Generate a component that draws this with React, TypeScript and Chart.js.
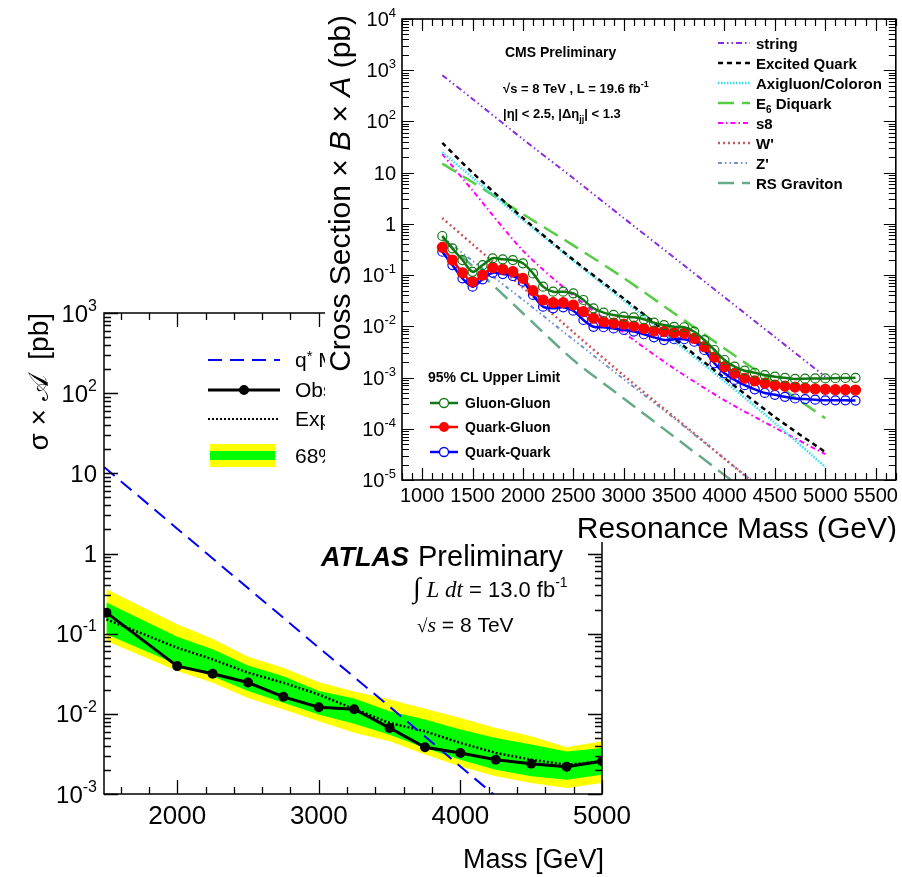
import React, { useEffect, useRef } from 'react';
import { Chart, registerables } from 'chart.js';
Chart.register(...registerables);

const SANS = "'Liberation Sans', Arial, Helvetica, sans-serif";
const SERIF = "'Liberation Serif', 'Times New Roman', serif";

// ================= ATLAS (bottom-left) data =================
const atlasMass = [1500, 2000, 2250, 2500, 2750, 3000, 3250, 3500, 3750, 4000, 4250, 4500, 4750, 5000];
const atlasObserved = [0.183, 0.0394, 0.0316, 0.0246, 0.0163, 0.0121, 0.0114, 0.00668, 0.00382, 0.00325, 0.00268, 0.00239, 0.00219, 0.00256];
const atlasExpected = [0.151, 0.0668, 0.0477, 0.0326, 0.0244, 0.0174, 0.0115, 0.0077, 0.00606, 0.00434, 0.00325, 0.00268, 0.00232, 0.00256];
const atlasGreenUp = [0.244, 0.0917, 0.0637, 0.0402, 0.0295, 0.0192, 0.0155, 0.0108, 0.0085, 0.00637, 0.005, 0.00413, 0.0034, 0.00376];
const atlasGreenDown = [0.098, 0.0413, 0.0295, 0.0192, 0.0137, 0.0098, 0.0075, 0.0055, 0.00376, 0.00268, 0.00201, 0.00166, 0.00151, 0.00174];
const atlasYellowUp = [0.358, 0.131, 0.0866, 0.0516, 0.0376, 0.0248, 0.019, 0.0151, 0.01155, 0.0089, 0.00668, 0.00525, 0.00382, 0.00454];
const atlasYellowDown = [0.081, 0.0341, 0.0244, 0.0158, 0.0113, 0.0081, 0.0058, 0.00454, 0.0031, 0.00221, 0.00166, 0.00137, 0.00119, 0.00137];
const qStarMass = [1483, 2000, 2500, 3000, 3500, 4000, 4500];
const qStarXsec = [12, 2.04, 0.37, 0.067, 0.0123, 0.0022, 0.0004];
const atlasXTicks = [2000, 3000, 4000, 5000];
const atlasYExps = [3, 2, 1, 0, -1, -2, -3];

// ================= CMS (top-right) data =================
const cmsMass = [1200, 1300, 1400, 1500, 1600, 1700, 1800, 1900, 2000, 2100, 2200, 2300, 2400, 2500, 2600, 2700, 2800, 2900, 3000, 3100, 3200, 3300, 3400, 3500, 3600, 3700, 3800, 3900, 4000, 4100, 4200, 4300, 4400, 4500, 4600, 4700, 4800, 4900, 5000, 5100, 5200, 5300];
const gluonGluon = [0.58, 0.333, 0.197, 0.116, 0.157, 0.213, 0.203, 0.197, 0.17, 0.108, 0.0594, 0.0475, 0.0475, 0.044, 0.0327, 0.0225, 0.0185, 0.0167, 0.0155, 0.015, 0.0137, 0.0118, 0.0106, 0.0098, 0.0096, 0.00785, 0.0054, 0.00345, 0.0022, 0.00163, 0.00136, 0.00124, 0.00112, 0.00104, 0.00099, 0.00094, 0.00095, 0.00096, 0.00096, 0.00097, 0.00098, 0.00099];
const quarkGluon = [0.348, 0.197, 0.111, 0.0745, 0.1, 0.14, 0.13, 0.117, 0.0865, 0.0497, 0.0327, 0.029, 0.029, 0.0261, 0.0194, 0.0144, 0.0123, 0.0115, 0.011, 0.0101, 0.0091, 0.0081, 0.0079, 0.0075, 0.0073, 0.0058, 0.004, 0.0025, 0.00163, 0.00121, 0.00097, 0.00086, 0.00077, 0.00071, 0.00068, 0.00065, 0.00062, 0.0006, 0.00059, 0.00058, 0.00058, 0.00057];
const quarkQuark = [0.286, 0.157, 0.0865, 0.0594, 0.0828, 0.111, 0.105, 0.096, 0.0745, 0.041, 0.0242, 0.0225, 0.0235, 0.0202, 0.0133, 0.0098, 0.0096, 0.0091, 0.0085, 0.0079, 0.007, 0.0061, 0.0054, 0.0056, 0.0056, 0.005, 0.00345, 0.0019, 0.00121, 0.0009, 0.00071, 0.00059, 0.0005, 0.00046, 0.00042, 0.00039, 0.00038, 0.00037, 0.00036, 0.00036, 0.00036, 0.000355];
const theoryMass = [1200, 1500, 2000, 2500, 3000, 3500, 4000, 4500, 5000];
const stringXsec = [800, 275, 45, 7.8, 1.3, 0.22, 0.037, 0.0062, 0.00104];
const excitedQuarkXsec = [38, 10, 1.3, 0.2, 0.035, 0.0058, 0.00098, 0.00017, 0.000035];
const axigluonXsec = [25, 8, 1.2, 0.19, 0.032, 0.0052, 0.00085, 0.00013, 0.000018];
const e6DiquarkXsec = [15, 6.5, 1.55, 0.38, 0.088, 0.018, 0.0037, 0.00077, 0.00016];
const s8Xsec = [23, 4.5, 0.3, 0.04, 0.0075, 0.0015, 0.00036, 0.000105, 0.000032];
const wPrimeXsec = [1.3, 0.4, 0.057, 0.0077, 0.0011, 0.00017, 0.000026, 0.000004];
const zPrimeXsec = [0.55, 0.19, 0.033, 0.0055, 0.00093, 0.00016, 0.000026, 0.0000043];
const rsGravitonXsec = [0.5, 0.15, 0.018, 0.0022, 0.00039, 0.00007, 0.0000125, 0.0000022];
const cmsXTicks = [1000, 1500, 2000, 2500, 3000, 3500, 4000, 4500, 5000, 5500];
const cmsYExps = [4, 3, 2, 1, 0, -1, -2, -3, -4, -5];

type Part = { t: string; font: string; dy?: number };

function partsWidth(ctx: CanvasRenderingContext2D, parts: Part[]) {
  let w = 0;
  for (const p of parts) { ctx.font = p.font; w += ctx.measureText(p.t).width; }
  return w;
}
function drawParts(ctx: CanvasRenderingContext2D, x: number, y: number, parts: Part[], align: 'left' | 'right' | 'center' = 'left') {
  const w = partsWidth(ctx, parts);
  let cx = align === 'right' ? x - w : align === 'center' ? x - w / 2 : x;
  ctx.textAlign = 'left';
  ctx.textBaseline = 'alphabetic';
  for (const p of parts) {
    ctx.font = p.font;
    ctx.fillText(p.t, cx, y + (p.dy || 0));
    cx += ctx.measureText(p.t).width;
  }
}
function powParts(exp: number, size: number, supSize: number): Part[] {
  const f = `${size}px ${SANS}`;
  const fs = `${supSize}px ${SANS}`;
  if (exp === 0) return [{ t: '1', font: f }];
  if (exp === 1) return [{ t: '10', font: f }];
  return [{ t: '10', font: f }, { t: String(exp), font: fs, dy: -size * 0.45 }];
}

type FrameOpts = {
  xTickStart: number; xTickStep: number; xMajorStep: number;
  majorLen: number; minorLen: number; frameWidth: number; tickWidth: number;
};
function drawFrameTicks(chart: any, o: FrameOpts) {
  const { ctx, chartArea: a, scales } = chart;
  const xs = scales.x, ys = scales.y;
  ctx.save();
  ctx.strokeStyle = '#000';
  ctx.setLineDash([]);
  ctx.beginPath();
  for (let v = o.xTickStart; v <= xs.max + 1e-6; v += o.xTickStep) {
    const px = Math.round(xs.getPixelForValue(v)) + 0.5;
    const major = Math.abs(v % o.xMajorStep) < 1e-6;
    const len = major ? o.majorLen : o.minorLen;
    ctx.moveTo(px, a.bottom); ctx.lineTo(px, a.bottom - len);
    ctx.moveTo(px, a.top); ctx.lineTo(px, a.top + len);
  }
  const e0 = Math.floor(Math.log10(ys.min)), e1 = Math.ceil(Math.log10(ys.max));
  for (let e = e0; e <= e1; e++) {
    for (let m = 1; m <= 9; m++) {
      const v = m * Math.pow(10, e);
      if (v < ys.min * 0.999 || v > ys.max * 1.001) continue;
      const py = Math.round(ys.getPixelForValue(v)) + 0.5;
      const len = m === 1 ? o.majorLen : o.minorLen;
      ctx.moveTo(a.left, py); ctx.lineTo(a.left + len, py);
      ctx.moveTo(a.right, py); ctx.lineTo(a.right - len, py);
    }
  }
  ctx.lineWidth = o.tickWidth;
  ctx.stroke();
  ctx.lineWidth = o.frameWidth;
  ctx.strokeRect(a.left, a.top, a.right - a.left, a.bottom - a.top);
  ctx.restore();
}

function pts(xs: number[], ys: number[]) {
  return ys.map((v, i) => ({ x: xs[i], y: v }));
}

// ================= ATLAS chart =================
const atlasDecor = {
  id: 'atlasDecor',
  beforeDraw(chart: any) {
    const ctx = chart.ctx;
    ctx.save();
    ctx.fillStyle = '#fff';
    ctx.fillRect(0, 0, chart.width, chart.height);
    ctx.restore();
  },
  afterDatasetsDraw(chart: any) {
    const ctx: CanvasRenderingContext2D = chart.ctx;
    const xs = chart.scales.x, ys = chart.scales.y;
    drawFrameTicks(chart, { xTickStart: 1600, xTickStep: 200, xMajorStep: 1000, majorLen: 14, minorLen: 7, frameWidth: 1.5, tickWidth: 1.3 });
    ctx.save();
    ctx.fillStyle = '#000';
    for (const v of atlasXTicks) {
      drawParts(ctx, xs.getPixelForValue(v), 824, [{ t: String(v), font: `26px ${SANS}` }], 'center');
    }
    for (const e of atlasYExps) {
      const py = ys.getPixelForValue(Math.pow(10, e));
      drawParts(ctx, 97, py + 8.5, powParts(e, 24, 16), 'right');
    }
    // axis titles
    drawParts(ctx, 604, 868, [{ t: 'Mass [GeV]', font: `27px ${SANS}` }], 'right');
    ctx.save();
    ctx.translate(48, 313);
    ctx.rotate(-Math.PI / 2);
    drawParts(ctx, 0, 0, [
      { t: 'σ × ', font: `28px ${SANS}` },
      { t: '𝒜', font: `28px ${SERIF}` },
      { t: '  [pb]', font: `28px ${SANS}` },
    ], 'right');
    ctx.restore();

    // legend
    ctx.lineCap = 'butt';
    ctx.strokeStyle = '#0000ff'; ctx.lineWidth = 2; ctx.setLineDash([14, 8]);
    ctx.beginPath(); ctx.moveTo(208, 360); ctx.lineTo(280, 360); ctx.stroke();
    ctx.setLineDash([]);
    ctx.strokeStyle = '#000'; ctx.lineWidth = 3;
    ctx.beginPath(); ctx.moveTo(208, 390); ctx.lineTo(280, 390); ctx.stroke();
    ctx.beginPath(); ctx.arc(244, 390, 5, 0, Math.PI * 2); ctx.fill();
    ctx.lineWidth = 2; ctx.setLineDash([2, 2]);
    ctx.beginPath(); ctx.moveTo(208, 419); ctx.lineTo(280, 419); ctx.stroke();
    ctx.setLineDash([]);
    ctx.fillStyle = '#ffff00'; ctx.fillRect(210, 444, 65, 23);
    ctx.fillStyle = '#00ff00'; ctx.fillRect(210, 451, 65, 9);
    ctx.fillStyle = '#000';
    const lf = `21px ${SANS}`;
    drawParts(ctx, 295, 367, [{ t: 'q', font: lf }, { t: '*', font: `15px ${SANS}`, dy: -6 }, { t: ' MC', font: lf }]);
    drawParts(ctx, 295, 397, [{ t: 'Observed 95% CL upper limit', font: lf }]);
    drawParts(ctx, 295, 426, [{ t: 'Expected 95% CL upper limit', font: lf }]);
    drawParts(ctx, 295, 463, [{ t: '68% and 95% bands', font: lf }]);

    // labels
    drawParts(ctx, 321, 566, [{ t: 'ATLAS', font: `italic bold 27px ${SANS}` }]);
    drawParts(ctx, 418, 566, [{ t: 'Preliminary', font: `29px ${SANS}` }]);
    drawParts(ctx, 413, 597, [
      { t: '∫', font: `28px ${SERIF}` },
      { t: ' L', font: `italic 23px ${SERIF}` },
      { t: ' dt', font: `italic 23px ${SERIF}` },
      { t: ' = 13.0 fb', font: `22px ${SANS}` },
      { t: '-1', font: `14px ${SANS}`, dy: -10 },
    ]);
    drawParts(ctx, 417, 632, [
      { t: '√', font: `19px ${SERIF}` },
      { t: 's', font: `italic 22px ${SERIF}` },
      { t: ' = 8 TeV', font: `21px ${SANS}` },
    ]);
    ctx.restore();
  },
};

function AtlasChart() {
  const ref = useRef<HTMLCanvasElement>(null);
  useEffect(() => {
    const chart = new Chart(ref.current as HTMLCanvasElement, {
      type: 'line',
      data: {
        datasets: [
          { data: pts(atlasMass, atlasYellowUp), borderWidth: 0, pointRadius: 0, backgroundColor: '#ffff00', fill: 1, order: 10, tension: 0 } as any,
          { data: pts(atlasMass, atlasYellowDown), borderWidth: 0, pointRadius: 0, fill: false, order: 9, tension: 0 },
          { data: pts(atlasMass, atlasGreenUp), borderWidth: 0, pointRadius: 0, backgroundColor: '#00ff00', fill: 3, order: 8, tension: 0 } as any,
          { data: pts(atlasMass, atlasGreenDown), borderWidth: 0, pointRadius: 0, fill: false, order: 7, tension: 0 },
          { data: pts(atlasMass, atlasExpected), borderColor: '#000', borderWidth: 2.5, borderDash: [2, 2], pointRadius: 0, fill: false, order: 4, tension: 0 },
          { data: pts(qStarMass, qStarXsec), borderColor: '#0000ff', borderWidth: 2, borderDash: [14, 8], pointRadius: 0, fill: false, order: 2, tension: 0 },
          { data: pts(atlasMass, atlasObserved), borderColor: '#000', borderWidth: 3, pointRadius: 5, pointBackgroundColor: '#000', pointBorderColor: '#000', pointBorderWidth: 0, fill: false, order: 1, tension: 0 },
        ],
      },
      options: {
        responsive: false,
        animation: false,
        devicePixelRatio: 1,
        events: [],
        layout: { padding: { left: 104, top: 313, right: 300, bottom: 83 } },
        plugins: { legend: { display: false }, tooltip: { enabled: false } },
        scales: {
          x: { type: 'linear', min: 1483, max: 5000, display: false },
          y: { type: 'logarithmic', min: 1e-3, max: 1e3, display: false },
        },
      },
      plugins: [atlasDecor],
    } as any);
    return () => chart.destroy();
  }, []);
  return <canvas ref={ref} width={902} height={877} style={{ position: 'absolute', left: 0, top: 0, width: 902, height: 877 }} />;
}

// ================= CMS chart =================
const theoryStyles = [
  { key: 'string', data: stringXsec, color: '#8a2be2', dash: [6, 3, 1.5, 3, 1.5, 3], width: 2 },
  { key: 'Excited Quark', data: excitedQuarkXsec, color: '#000000', dash: [5, 4], width: 2.5 },
  { key: 'Axigluon/Coloron', data: axigluonXsec, color: '#33e0f0', dash: [1.5, 1.5], width: 2.5 },
  { key: 'E6 Diquark', data: e6DiquarkXsec, color: '#55cc44', dash: [16, 8], width: 2.5 },
  { key: 's8', data: s8Xsec, color: '#ff00ff', dash: [5, 3, 1.5, 3], width: 2 },
  { key: "W'", data: wPrimeXsec, color: '#c85a5a', dash: [2, 3], width: 2.5 },
  { key: "Z'", data: zPrimeXsec, color: '#7090d0', dash: [4, 3, 1.5, 3, 1.5, 3], width: 2 },
  { key: 'RS Graviton', data: rsGravitonXsec, color: '#66aa88', dash: [16, 8], width: 2.5 },
];
const observedStyles = [
  { key: 'Gluon-Gluon', data: gluonGluon, color: '#117711', filled: false },
  { key: 'Quark-Gluon', data: quarkGluon, color: '#ff0000', filled: true },
  { key: 'Quark-Quark', data: quarkQuark, color: '#0000ff', filled: false },
];

const cmsDecor = {
  id: 'cmsDecor',
  beforeDraw(chart: any) {
    const ctx = chart.ctx;
    ctx.save();
    ctx.fillStyle = '#fff';
    ctx.fillRect(0, 0, chart.width, chart.height);
    ctx.restore();
  },
  afterDatasetsDraw(chart: any) {
    const ctx: CanvasRenderingContext2D = chart.ctx;
    const xs = chart.scales.x, ys = chart.scales.y;
    drawFrameTicks(chart, { xTickStart: 800, xTickStep: 100, xMajorStep: 500, majorLen: 12, minorLen: 7, frameWidth: 1.6, tickWidth: 1.2 });
    ctx.save();
    ctx.fillStyle = '#000';
    for (const v of cmsXTicks) {
      drawParts(ctx, xs.getPixelForValue(v), 502, [{ t: String(v), font: `20px ${SANS}` }], 'center');
    }
    for (const e of cmsYExps) {
      const py = ys.getPixelForValue(Math.pow(10, e));
      drawParts(ctx, 71, py + 7, powParts(e, 20, 13), 'right');
    }
    drawParts(ctx, 572, 538, [{ t: 'Resonance Mass (GeV)', font: `30px ${SANS}` }], 'right');
    ctx.save();
    ctx.translate(25, 15);
    ctx.rotate(-Math.PI / 2);
    drawParts(ctx, 0, 0, [
      { t: 'Cross Section × ', font: `30px ${SANS}` },
      { t: 'B', font: `italic 30px ${SANS}` },
      { t: ' × ', font: `30px ${SANS}` },
      { t: 'A', font: `italic 30px ${SANS}` },
      { t: ' (pb)', font: `30px ${SANS}` },
    ], 'right');
    ctx.restore();

    // text labels
    const b13 = `bold 13px ${SANS}`;
    drawParts(ctx, 180, 57, [{ t: 'CMS Preliminary', font: `bold 14px ${SANS}` }]);
    drawParts(ctx, 178, 93, [{ t: '√s = 8 TeV , L = 19.6 fb', font: b13 }, { t: '-1', font: `bold 9px ${SANS}`, dy: -6 }]);
    drawParts(ctx, 178, 118, [{ t: '|η| < 2.5, |Δη', font: b13 }, { t: 'jj', font: `bold 9px ${SANS}`, dy: 4 }, { t: '| < 1.3', font: b13 }]);
    drawParts(ctx, 103, 382, [{ t: '95% CL Upper Limit', font: `bold 14px ${SANS}` }]);

    // theory legend
    const b15 = `bold 15px ${SANS}`;
    theoryStyles.forEach((s, i) => {
      const y = 43 + i * 20;
      ctx.strokeStyle = s.color; ctx.lineWidth = s.width; ctx.setLineDash(s.dash);
      ctx.beginPath(); ctx.moveTo(393, y); ctx.lineTo(425, y); ctx.stroke();
      ctx.setLineDash([]);
      ctx.fillStyle = '#000';
      if (s.key === 'E6 Diquark') {
        drawParts(ctx, 431, y + 5.5, [{ t: 'E', font: b15 }, { t: '6', font: `bold 10px ${SANS}`, dy: 4 }, { t: ' Diquark', font: b15 }]);
      } else {
        drawParts(ctx, 431, y + 5.5, [{ t: s.key, font: b15 }]);
      }
    });
    // observed legend
    observedStyles.forEach((s, i) => {
      const y = [403, 427, 452][i];
      ctx.strokeStyle = s.color; ctx.lineWidth = 2.5; ctx.setLineDash([]);
      ctx.beginPath(); ctx.moveTo(105, y); ctx.lineTo(133, y); ctx.stroke();
      ctx.beginPath(); ctx.arc(119, y, s.filled ? 5 : 4.5, 0, Math.PI * 2);
      if (s.filled) { ctx.fillStyle = s.color; ctx.fill(); }
      else { ctx.fillStyle = '#fff'; ctx.fill(); ctx.lineWidth = 1.3; ctx.stroke(); }
      ctx.fillStyle = '#000';
      drawParts(ctx, 140, y + 5, [{ t: s.key, font: `bold 14px ${SANS}` }]);
    });
    ctx.restore();
  },
};

function CmsChart() {
  const ref = useRef<HTMLCanvasElement>(null);
  useEffect(() => {
    const theorySets = theoryStyles.map((s, i) => ({
      data: pts(theoryMass, s.data), borderColor: s.color, borderWidth: s.width, borderDash: s.dash,
      pointRadius: 0, fill: false, tension: 0.25, order: 20 + i,
    }));
    const obsSets = observedStyles.map((s, i) => ({
      data: pts(cmsMass, s.data), borderColor: s.color, borderWidth: 2.5,
      pointRadius: s.filled ? 5 : 4.5, pointBorderWidth: 1.2, pointBorderColor: s.color,
      pointBackgroundColor: s.filled ? s.color : 'rgba(255,255,255,0)', fill: false,
      tension: 0.3, order: [1, 2, 3][i],
    }));
    const chart = new Chart(ref.current as HTMLCanvasElement, {
      type: 'line',
      data: { datasets: [...obsSets, ...theorySets] },
      options: {
        responsive: false,
        animation: false,
        devicePixelRatio: 1,
        events: [],
        layout: { padding: { left: 77, top: 19, right: 5, bottom: 62 } },
        plugins: { legend: { display: false }, tooltip: { enabled: false } },
        scales: {
          x: { type: 'linear', min: 800, max: 5700, display: false },
          y: { type: 'logarithmic', min: 1e-5, max: 1e4, display: false },
        },
      },
      plugins: [cmsDecor],
    } as any);
    return () => chart.destroy();
  }, []);
  return <canvas ref={ref} width={577} height={542} style={{ position: 'absolute', left: 325, top: 0, width: 577, height: 542, zIndex: 2 }} />;
}

export default function App() {
  return (
    <div style={{ position: 'fixed', left: 0, top: 0, width: 902, height: 877, background: '#fff', overflow: 'hidden' }}>
      <AtlasChart />
      <CmsChart />
    </div>
  );
}
